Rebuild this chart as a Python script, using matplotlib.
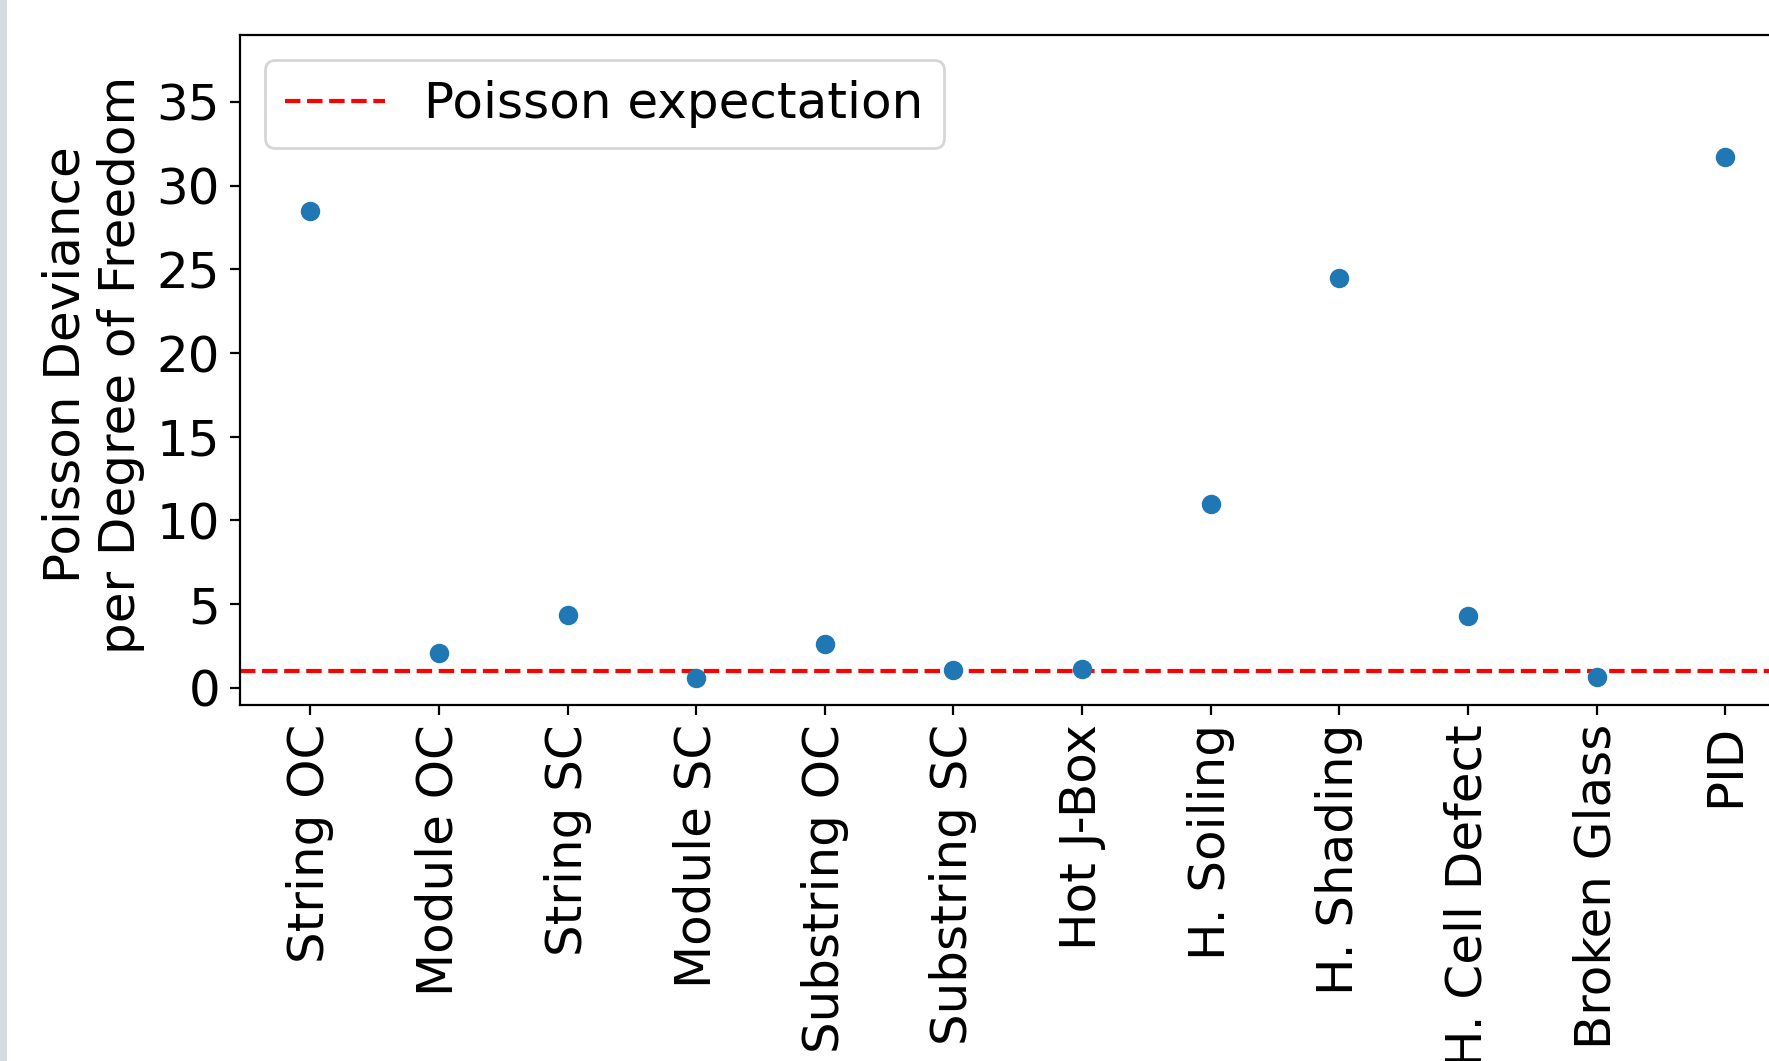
import matplotlib
matplotlib.use("Agg")
import matplotlib.pyplot as plt
from matplotlib.patches import Rectangle

categories = ["String OC", "Module OC", "String SC", "Module SC", "Substring OC",
              "Substring SC", "Hot J-Box", "H. Soiling", "H. Shading",
              "H. Cell Defect", "Broken Glass", "PID"]
deviance = [28.5, 2.1, 4.35, 0.6, 2.6, 1.05, 1.1, 11.0, 24.5, 4.28, 0.62, 31.7]
poisson_expectation = 1.0

plt.rcParams['font.size'] = 18

fig = plt.figure(figsize=(1769 / 200, 1061 / 200), dpi=200)
ax = fig.add_axes([239.5 / 1769, 1 - 704.5 / 1061, (1796 - 239.5) / 1769, (704.5 - 35) / 1061])

x = list(range(len(categories)))
ax.scatter(x, deviance, color="#1f77b4", zorder=3)
ax.axhline(poisson_expectation, color="red", linestyle="--", label="Poisson expectation")

ax.set_xticks(x)
ax.set_xticklabels(categories, rotation=90)
ax.set_yticks(range(0, 40, 5))
ax.set_xlim(-0.55, len(categories) - 1 + 0.55)
ax.set_ylim(-1, 39)
ax.set_ylabel("Poisson Deviance\nper Degree of Freedom")
ax.yaxis.label.set_y(0.508)
ax.legend(loc="upper left")

fig.patches.append(Rectangle((0, 0), 7 / 1769, 1, transform=fig.transFigure,
                             facecolor="#d5dbe3", edgecolor="none", zorder=10))

fig.savefig("out.png", dpi=200)
